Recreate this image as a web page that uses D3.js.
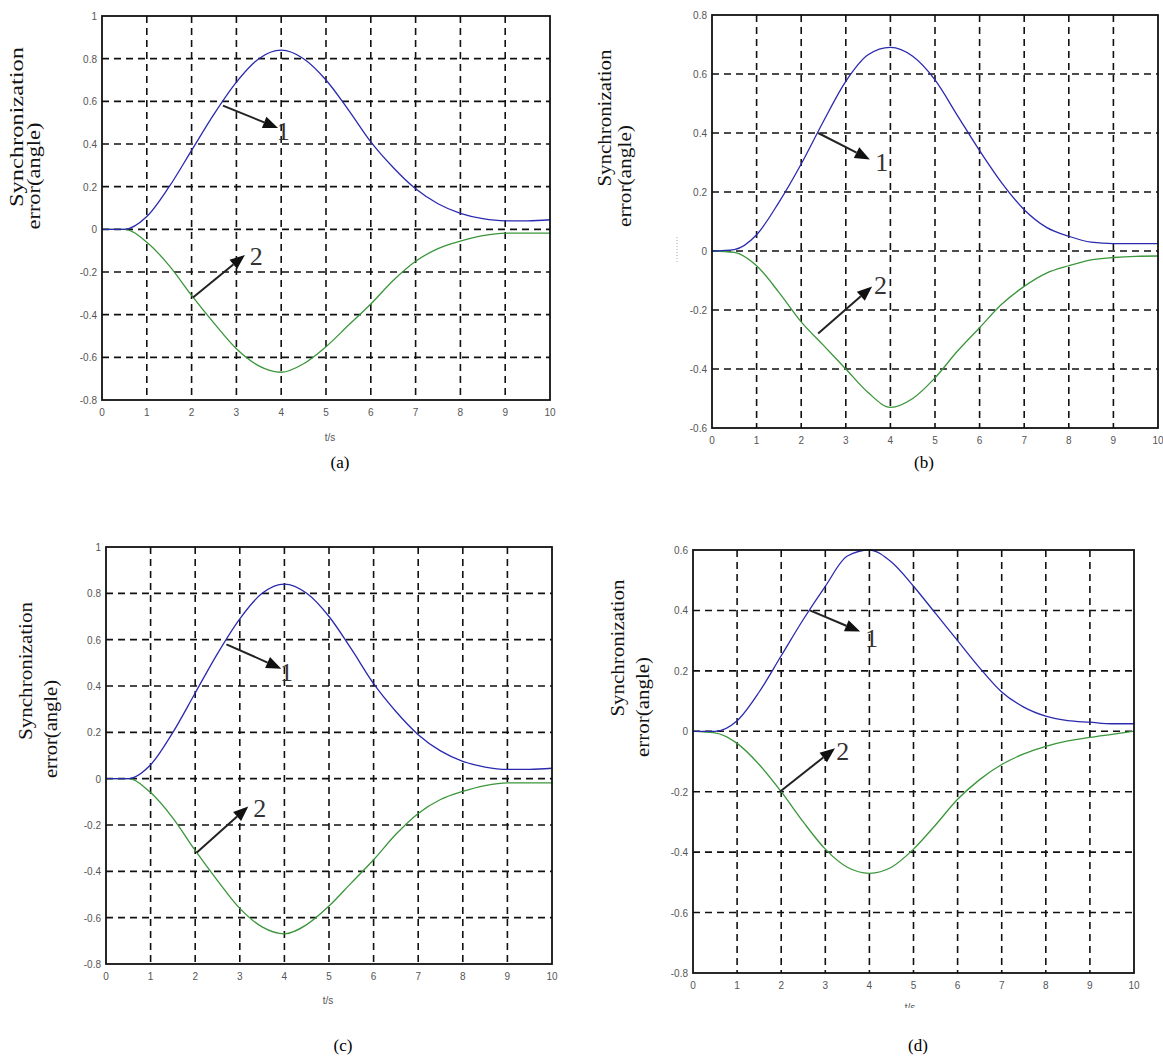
<!DOCTYPE html>
<html>
<head>
<meta charset="utf-8">
<script src="https://cdn.jsdelivr.net/npm/d3@7"></script>
<style>
  body { margin: 0; background: #fff; }
  svg text { font-family: "Liberation Sans", Arial, sans-serif; }
  svg text.serif { font-family: "Liberation Serif", "Times New Roman", serif; }
</style>
</head>
<body>
<svg id="fig" width="1163" height="1059"></svg>
<script>
// time samples (s)
var tValues = [0, 0.5, 1, 1.5, 2, 2.5, 3, 3.5, 4, 4.5, 5, 5.5, 6, 6.5, 7, 7.5, 8, 8.5, 9, 9.5, 10];
var xTicks = [0, 1, 2, 3, 4, 5, 6, 7, 8, 9, 10];

// curve 1 (blue) and curve 2 (green)
var blueA  = [0, 0, 0.06, 0.20, 0.37, 0.54, 0.69, 0.80, 0.84, 0.80, 0.70, 0.56, 0.41, 0.29, 0.19, 0.12, 0.075, 0.05, 0.04, 0.04, 0.045];
var greenA = [0, 0, -0.06, -0.17, -0.31, -0.44, -0.56, -0.64, -0.67, -0.63, -0.55, -0.45, -0.35, -0.24, -0.15, -0.09, -0.055, -0.03, -0.018, -0.018, -0.018];
var blueB  = [0, 0.005, 0.055, 0.165, 0.295, 0.44, 0.575, 0.665, 0.69, 0.66, 0.58, 0.46, 0.34, 0.23, 0.14, 0.08, 0.05, 0.03, 0.025, 0.025, 0.025];
var greenB = [0, -0.005, -0.05, -0.14, -0.24, -0.32, -0.40, -0.48, -0.53, -0.50, -0.43, -0.34, -0.26, -0.18, -0.12, -0.075, -0.05, -0.03, -0.022, -0.018, -0.017];
var blueD  = [0, 0, 0.035, 0.13, 0.25, 0.37, 0.48, 0.58, 0.60, 0.56, 0.48, 0.39, 0.30, 0.21, 0.13, 0.08, 0.05, 0.035, 0.03, 0.025, 0.025];
var greenD = [0, -0.005, -0.04, -0.11, -0.20, -0.30, -0.39, -0.45, -0.47, -0.45, -0.39, -0.31, -0.225, -0.16, -0.11, -0.075, -0.05, -0.032, -0.02, -0.01, 0];

var yTicksA = [-0.8, -0.6, -0.4, -0.2, 0, 0.2, 0.4, 0.6, 0.8, 1];
var yTicksB = [-0.6, -0.4, -0.2, 0, 0.2, 0.4, 0.6, 0.8];
var yTicksD = [-0.8, -0.6, -0.4, -0.2, 0, 0.2, 0.4, 0.6];

// arrows: [tail t, tail v, tip t, tip v], labels: [t, v, text]
var arrowsA = [[2.70, 0.58, 3.93, 0.475], [2.03, -0.32, 3.19, -0.12]];
var labelsA = [[3.90, 0.42, "1"], [3.30, -0.165, "2"]];
var arrowsB = [[2.38, 0.40, 3.54, 0.31], [2.38, -0.28, 3.59, -0.12]];
var labelsB = [[3.66, 0.27, "1"], [3.63, -0.145, "2"]];
var arrowsD = [[2.65, 0.40, 3.79, 0.33], [1.97, -0.20, 3.22, -0.056]];
var labelsD = [[3.90, 0.28, "1"], [3.25, -0.096, "2"]];

var yTitle1 = "Synchronization";
var yTitle2 = "error(angle)";
var xTitle = "t/s";

var panels = [
  { box: [102, 16, 550, 400], yDomain: [-0.8, 1], yTicks: yTicksA, blue: blueA, green: greenA,
    arrows: arrowsA, labels: labelsA, caption: "(a)", capPos: [340, 468],
    t1: [17, 127, 160], t2: [34, 176, 107], xTitleAt: [330, 441], clipY: null },
  { box: [712, 15, 1158, 428], yDomain: [-0.6, 0.8], yTicks: yTicksB, blue: blueB, green: greenB,
    arrows: arrowsB, labels: labelsB, caption: "(b)", capPos: [924, 468],
    t1: [605, 118, 137], t2: [625, 176, 102], xTitleAt: null, clipY: null },
  { box: [106, 547, 552, 964], yDomain: [-0.8, 1], yTicks: yTicksA, blue: blueA, green: greenA,
    arrows: arrowsA, labels: labelsA, caption: "(c)", capPos: [343, 1051],
    t1: [26, 671, 138], t2: [51, 729, 98], xTitleAt: [328, 1004], clipY: null },
  { box: [693, 550, 1134, 973], yDomain: [-0.8, 0.6], yTicks: yTicksD, blue: blueD, green: greenD,
    arrows: arrowsD, labels: labelsD, caption: "(d)", capPos: [918, 1051],
    t1: [618, 648, 137], t2: [643, 707, 100], xTitleAt: [910, 1011], clipY: 1008 }
];

var svg = d3.select("#fig");
svg.append("rect").attr("width", 1163).attr("height", 1059).attr("fill", "#fff");

panels.forEach(function(p, pi) {
  var x = d3.scaleLinear().domain([0, 10]).range([p.box[0], p.box[2]]);
  var y = d3.scaleLinear().domain(p.yDomain).range([p.box[3], p.box[1]]);
  var g = svg.append("g");

  //dashed grid
  g.selectAll(".vg").data(xTicks.slice(1, -1)).enter().append("line")
    .attr("x1", function(d) { return x(d); }).attr("x2", function(d) { return x(d); })
    .attr("y1", p.box[1]).attr("y2", p.box[3])
    .attr("stroke", "#111").attr("stroke-width", 1.6).attr("stroke-dasharray", "7,5");
  g.selectAll(".hg").data(p.yTicks.slice(1, -1)).enter().append("line")
    .attr("y1", function(d) { return y(d); }).attr("y2", function(d) { return y(d); })
    .attr("x1", p.box[0]).attr("x2", p.box[2])
    .attr("stroke", "#111").attr("stroke-width", 1.6).attr("stroke-dasharray", "7,5");

  //curves
  var line = d3.line()
    .x(function(d, i) { return x(tValues[i]); })
    .y(function(d) { return y(d); })
    .curve(d3.curveMonotoneX);
  g.append("path").datum(p.green).attr("d", line)
    .attr("fill", "none").attr("stroke", "#3a963a").attr("stroke-width", 1.3);
  g.append("path").datum(p.blue).attr("d", line)
    .attr("fill", "none").attr("stroke", "#2a2aae").attr("stroke-width", 1.3);

  //frame
  g.append("rect")
    .attr("x", p.box[0]).attr("y", p.box[1])
    .attr("width", p.box[2] - p.box[0]).attr("height", p.box[3] - p.box[1])
    .attr("fill", "none").attr("stroke", "#111").attr("stroke-width", 1.8);

  //tick labels
  var fmt = function(d) { return String(+d.toFixed(1)); };
  g.selectAll(".xl").data(xTicks).enter().append("text")
    .attr("x", function(d) { return x(d); }).attr("y", p.box[3] + 16)
    .attr("text-anchor", "middle").attr("font-size", 10).attr("fill", "#555")
    .text(fmt);
  g.selectAll(".yl").data(p.yTicks).enter().append("text")
    .attr("x", p.box[0] - 5).attr("y", function(d) { return y(d) + 4; })
    .attr("text-anchor", "end").attr("font-size", 10).attr("fill", "#555")
    .text(fmt);

  //x title
  if (p.xTitleAt) {
    var xt = g.append("text")
      .attr("x", p.xTitleAt[0]).attr("y", p.xTitleAt[1])
      .attr("text-anchor", "middle").attr("font-size", 10).attr("fill", "#555")
      .text(xTitle);
    if (p.clipY) {
      svg.append("clipPath").attr("id", "clipT" + pi)
        .append("rect").attr("x", 0).attr("y", 0).attr("width", 1163).attr("height", p.clipY);
      xt.attr("clip-path", "url(#clipT" + pi + ")");
    }
  }

  //y title (two rotated lines)
  [[p.t1, yTitle1], [p.t2, yTitle2]].forEach(function(t) {
    g.append("text").attr("class", "serif")
      .attr("transform", "translate(" + t[0][0] + "," + t[0][1] + ") rotate(-90)")
      .attr("text-anchor", "middle").attr("dominant-baseline", "central")
      .attr("font-size", 18).attr("fill", "#111")
      .attr("textLength", t[0][2]).attr("lengthAdjust", "spacingAndGlyphs")
      .text(t[1]);
  });

  //arrows
  p.arrows.forEach(function(a) {
    var x1 = x(a[0]), y1 = y(a[1]), x2 = x(a[2]), y2 = y(a[3]);
    var ang = Math.atan2(y2 - y1, x2 - x1);
    var hl = 15, hw = 6;
    var bx = x2 - hl * Math.cos(ang), by = y2 - hl * Math.sin(ang);
    g.append("line")
      .attr("x1", x1).attr("y1", y1).attr("x2", bx).attr("y2", by)
      .attr("stroke", "#222").attr("stroke-width", 2);
    var pts = [
      [x2, y2],
      [bx + hw * Math.sin(ang), by - hw * Math.cos(ang)],
      [bx - hw * Math.sin(ang), by + hw * Math.cos(ang)]
    ];
    g.append("polygon").attr("points", pts.map(function(q) { return q.join(","); }).join(" "))
      .attr("fill", "#111");
  });
  p.labels.forEach(function(l) {
    g.append("text").attr("class", "serif")
      .attr("x", x(l[0])).attr("y", y(l[1]))
      .attr("font-size", 26).attr("fill", "#333")
      .text(l[2]);
  });

  //caption
  g.append("text").attr("class", "serif")
    .attr("x", p.capPos[0]).attr("y", p.capPos[1])
    .attr("text-anchor", "middle")
    .attr("font-size", 17).attr("fill", "#000")
    .text(p.caption);
});

//small dotted mark left of panel (b)
svg.append("line")
  .attr("x1", 677).attr("x2", 677).attr("y1", 237).attr("y2", 262)
  .attr("stroke", "#aaa").attr("stroke-width", 1).attr("stroke-dasharray", "1,2");
</script>
</body>
</html>
